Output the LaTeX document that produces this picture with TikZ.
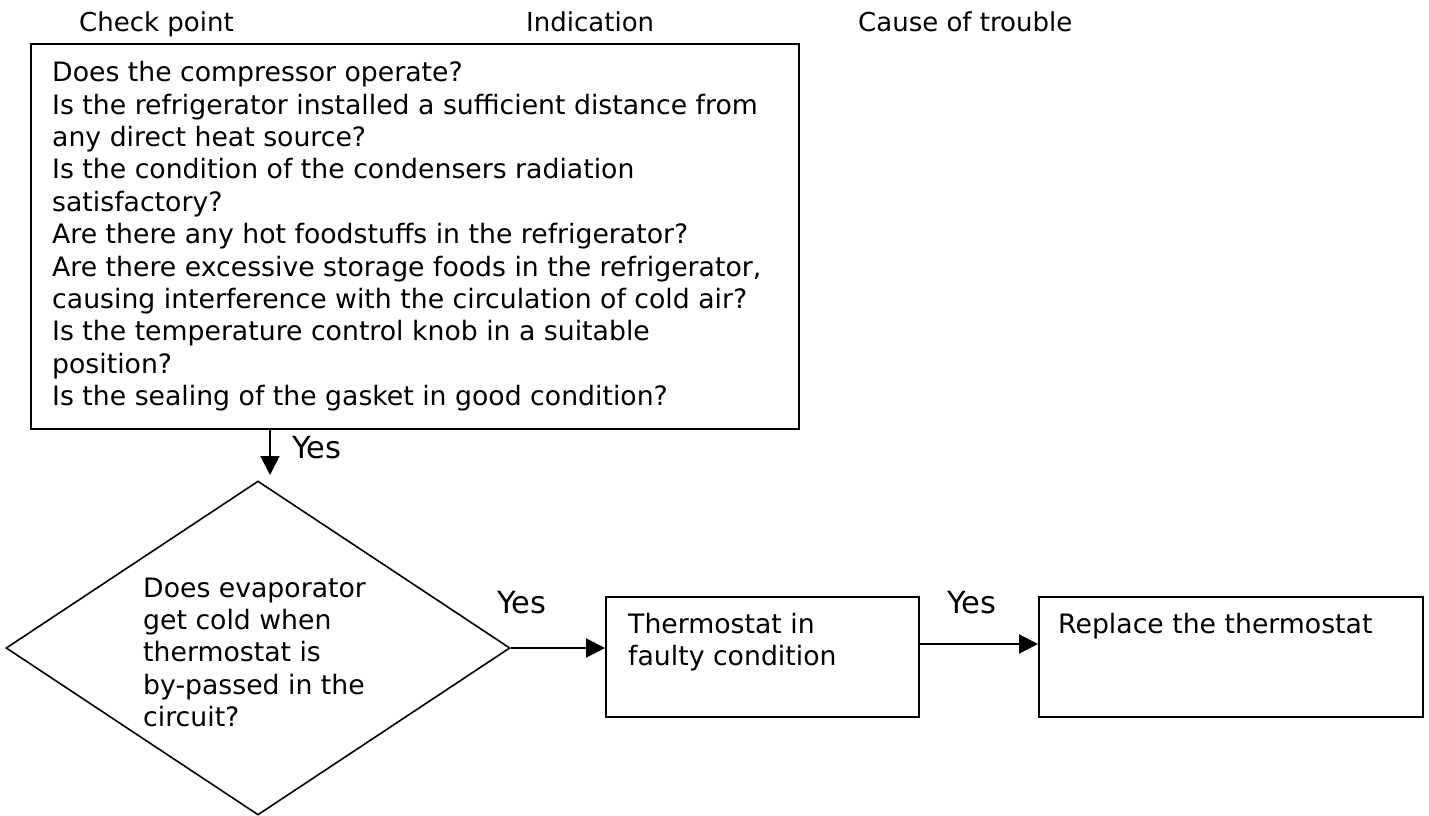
\documentclass[tikz,border=0pt]{standalone}
\usepackage{fontspec}
\setmainfont{DejaVu Sans}
\usetikzlibrary{arrows.meta,shapes.geometric}
\begin{document}
\begin{tikzpicture}[x=1pt,y=-1pt,
  box/.style={draw, line width=2pt, inner sep=0pt, anchor=north west},
  txt/.style={inner sep=0pt, anchor=base west, font=\fontsize{26.7}{32.4}\selectfont},
  hdr/.style={inner sep=0pt, anchor=base west, font=\fontsize{26}{30}\selectfont},
  lbl/.style={inner sep=0pt, anchor=base west, font=\fontsize{30.5}{34}\selectfont},
  arr/.style={line width=2pt, -{Triangle[length=19pt,width=19pt]}}]
\useasboundingbox (0,0) rectangle (1429,816);

% headers
\node[hdr] (h1) at (79,32) {Check point};
\node[hdr] (h2) at (526,32) {Indication};
\node[hdr] (h3) at (858,32) {Cause of trouble};

% boxes
\node[box, minimum width=768pt, minimum height=385pt] (main) at (30,43) {};
\node[draw, line width=1.6pt, diamond, inner sep=0pt, aspect=1.509,
      minimum width=504pt, minimum height=334pt] (dia) at (258,648) {};
\node[box, minimum width=313pt, minimum height=120pt] (thermo) at (605,596) {};
\node[box, minimum width=384pt, minimum height=120pt] (repl) at (1038,596) {};

% texts
\node[txt] (mt) at (52,81.7) {\parbox[t]{740pt}{\raggedright
Does the compressor operate?\\
Is the refrigerator installed a sufficient distance from\\
any direct heat source?\\
Is the condition of the condensers radiation\\
satisfactory?\\
Are there any hot foodstuffs in the refrigerator?\\
Are there excessive storage foods in the refrigerator,\\
causing interference with the circulation of cold air?\\
Is the temperature control knob in a suitable\\
position?\\
Is the sealing of the gasket in good condition?}};
\node[txt] (dt) at (143,597) {\parbox[t]{300pt}{\raggedright
Does evaporator\\
get cold when\\
thermostat is\\
by-passed in the\\
circuit?}};
\node[txt] (tt) at (628,633) {\parbox[t]{280pt}{\raggedright
Thermostat in\\
faulty condition}};
\node[txt] (rt) at (1058,633) {Replace the thermostat};

% connectors
\coordinate (a1) at (270,475);
\draw[arr] (main.south -| a1) -- (a1);
\draw[arr] (dia.east) -- (thermo.west |- dia.east);
\coordinate (y2) at (0,644);
\draw[arr] (thermo.east |- y2) -- (repl.west |- y2);

% labels
\node[lbl] (y1) at (292,458) {Yes};
\node[lbl] (yb) at (497,613) {Yes};
\node[lbl] (yc) at (947,613) {Yes};
\end{tikzpicture}
\end{document}
